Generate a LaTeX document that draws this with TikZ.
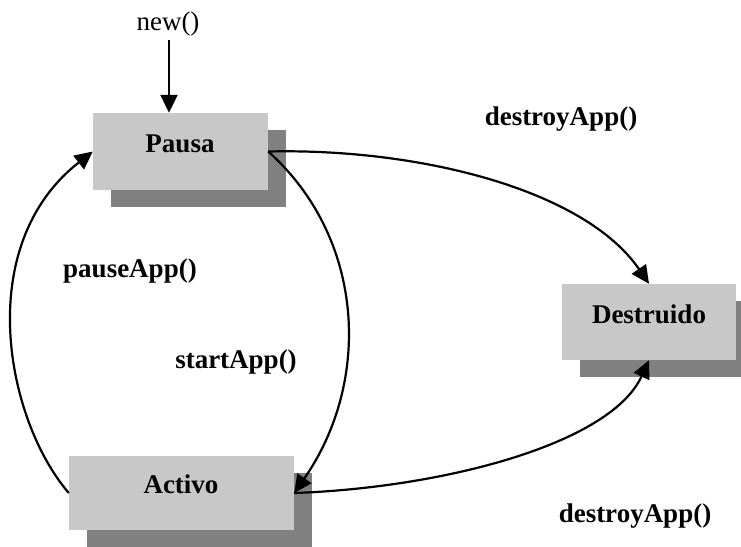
\documentclass[tikz,border=0pt]{standalone}
\usepackage{fontspec}
\setmainfont{Liberation Serif}
\usetikzlibrary{arrows.meta,shadows}
\definecolor{boxgray}{HTML}{C8C8C8}
\definecolor{shadegray}{HTML}{808080}
\begin{document}
\begin{tikzpicture}[x=1pt,y=-1pt,
  statebox/.style={fill=boxgray, draw=none, inner sep=0pt,
    drop shadow={shadow xshift=18pt, shadow yshift=-17pt, fill=shadegray, opacity=1}},
  lbl/.style={font=\fontsize{27}{32}\selectfont\bfseries, anchor=base, inner sep=0pt},
  plain/.style={font=\fontsize{27}{32}\selectfont, anchor=base, inner sep=0pt},
  arr/.style={line width=2.2pt, -{Triangle[length=18pt,width=17pt]}}]
\useasboundingbox (0,0) rectangle (741,546);
\fill[white] (0,0) rectangle (741,546);
\clip (0,0) rectangle (741,546);
% state boxes
\node[statebox, minimum width=175pt, minimum height=77pt] (Pausa) at (180.5,151.5) {};
\node[statebox, minimum width=174pt, minimum height=76pt] (Destruido) at (649,322) {};
\node[statebox, minimum width=225pt, minimum height=74pt] (Activo) at (181.5,493) {};
% box texts
\node[lbl] (tPausa) at (180,152) {Pausa};
\node[lbl] (tDestruido) at (649,323) {Destruido};
\node[lbl] (tActivo) at (181,493) {Activo};
% labels
\node[plain] (new) at (168,30) {new()};
\node[lbl] (l1) at (561,125) {destroyApp()};
\node[lbl] (l2) at (130,277) {pauseApp()};
\node[lbl] (l3) at (236,368) {startApp()};
\node[lbl] (l4) at (635,522) {destroyApp()};
% connectors
\draw[arr] ([xshift=1pt,yshift=-4pt]new.south) -- ([xshift=1pt]new.south |- Pausa.north);
\draw[arr] (Pausa.east) .. controls (420,148) and (585,190) .. (Destruido.north);
\draw[arr] (Pausa.east) .. controls (365,238) and (372,381) .. (Activo.east);
\draw[arr] (Activo.west) .. controls (6,420) and (-28,246) .. (Pausa.west);
\draw[arr] (Activo.east) .. controls (440,488) and (610,445) .. (Destruido.south);
\end{tikzpicture}
\end{document}
